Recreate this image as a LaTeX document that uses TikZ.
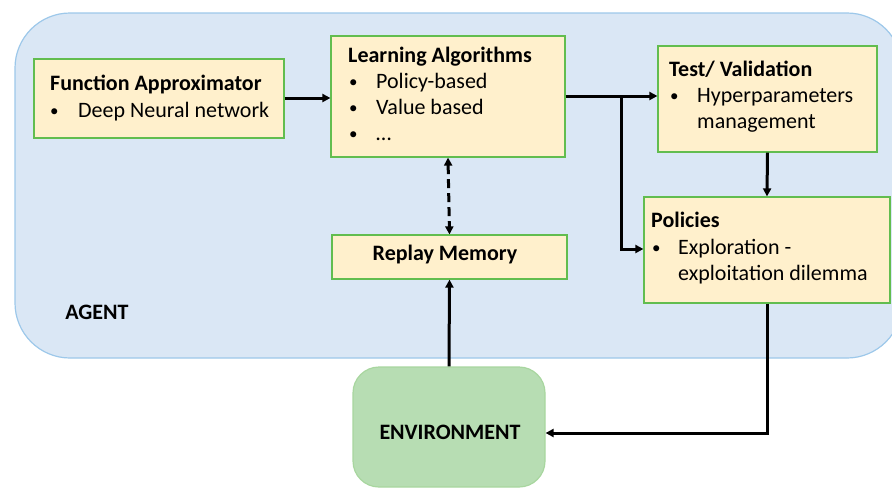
\documentclass[tikz,border=0pt]{standalone}
\usepackage{fontspec}
\setmainfont{Carlito}
\usetikzlibrary{arrows.meta}
\definecolor{agentfill}{HTML}{DAE7F5}
\definecolor{agentline}{HTML}{9DC8EA}
\definecolor{boxfill}{HTML}{FFF0CC}
\definecolor{boxline}{HTML}{62BD4F}
\definecolor{envfill}{HTML}{B7DDB3}
\definecolor{envline}{HTML}{A8D69F}
\tikzset{
  box/.style={draw=boxline, fill=boxfill, line width=1.2pt, inner sep=0pt},
  txt/.style={anchor=base west, inner sep=0pt, font=\fontsize{22}{26}\selectfont},
  ttl/.style={txt, font=\fontsize{22}{26}\selectfont\bfseries},
  bul/.style={anchor=base west, inner sep=0pt, font=\fontsize{17}{20}\selectfont},
  flow/.style={line width=3pt, -{Triangle[length=8pt,width=8pt]}},
  dashflow/.style={line width=3pt, dash pattern=on 9pt off 5pt, {Triangle[length=8pt,width=8pt]}-{Triangle[length=8pt,width=8pt]}},
}
\begin{document}
\begin{tikzpicture}[x=1pt, y=-1pt]
\useasboundingbox (0,0) rectangle (892,490);
\clip (0,0) rectangle (892,490);

% agent region
\path[draw=agentline, fill=agentfill, line width=1.2pt, rounded corners=55pt]
  (15,13) rectangle (902,358);
\node[anchor=center, inner sep=0pt, font=\fontsize{22}{26}\selectfont\bfseries] (agent) at (97,312) {AGENT};

% environment
\node[draw=envline, fill=envfill, line width=1.2pt, rounded corners=26pt,
      minimum width=192pt, minimum height=120pt, inner sep=0pt] (env) at (449,427) {};
\node[anchor=center, inner sep=0pt, font=\fontsize{22}{26}\selectfont\bfseries] (envtxt) at (450,432) {ENVIRONMENT};

% boxes
\node[box, minimum width=250pt, minimum height=79pt] (fa) at (159,98.5) {};
\node[box, minimum width=234pt, minimum height=121pt] (la) at (448,96.5) {};
\node[box, minimum width=219pt, minimum height=106pt] (tv) at (767.5,99) {};
\node[box, minimum width=246pt, minimum height=106pt] (po) at (767,250) {};
\node[box, minimum width=235pt, minimum height=44pt] (rm) at (449.5,257) {};

% box texts
\node[ttl] (faT) at (50,90) {Function Approximator};
\node[bul] (faB1) at (50,116) {•};
\node[txt] (faL1) at (78,117) {Deep Neural network};

\node[ttl] (laT) at (348,62) {Learning Algorithms};
\node[bul] (laB1) at (349,87) {•};
\node[txt] (laL1) at (376,88) {Policy-based};
\node[bul] (laB2) at (349,113) {•};
\node[txt] (laL2) at (376,114) {Value based};
\node[bul] (laB3) at (349,139) {•};
\node[txt] (laL3) at (376,140) {…};

\node[ttl] (tvT) at (669,76) {Test/ Validation};
\node[bul] (tvB1) at (670,101) {•};
\node[txt] (tvL1) at (697,102) {Hyperparameters};
\node[txt] (tvL2) at (697,128) {management};

\node[ttl] (poT) at (651,227) {Policies};
\node[bul] (poB1) at (652,253) {•};
\node[txt] (poL1) at (678,254) {Exploration -};
\node[txt] (poL2) at (678,280) {exploitation dilemma};

\node[anchor=base, inner sep=0pt, font=\fontsize{22}{26}\selectfont\bfseries] (rmT) at (445,260) {Replay Memory};

% connectors
\coordinate (split) at (621,96);
\coordinate (corner) at (767,433);
\draw[flow] (fa.east |- 0,98) -- (la.west |- 0,98);
\draw[flow] (la.east |- split) -- (tv.west |- split);
\draw[flow] (split) |- (po.west |- 0,249);
\draw[flow] (tv.south) -- (po.north);
\draw[flow] (po.south) -- (corner) -- (env.east |- corner);
\draw[flow] (env.north) -- (rm.south);
\draw[dashflow] (la.south) -- (rm.north);
\end{tikzpicture}
\end{document}
